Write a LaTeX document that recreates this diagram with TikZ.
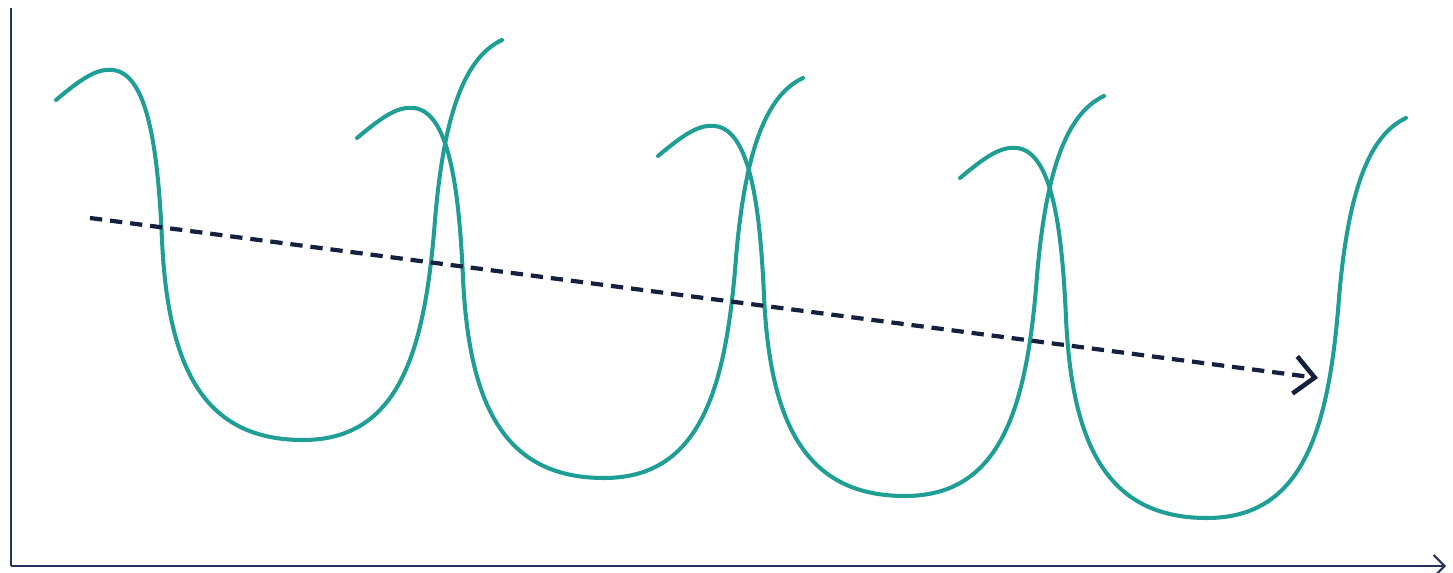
\documentclass[tikz,border=0pt]{standalone}
\usepackage{tikz}
\usetikzlibrary{arrows.meta}
\definecolor{wave}{HTML}{1E9E94}
\definecolor{axnavy}{HTML}{26345E}
\definecolor{trendnavy}{HTML}{15203F}
\begin{document}
\begin{tikzpicture}[
  x=0.02cm, y=-0.02cm,
  axis/.style={axnavy, line width=1.6pt, -{Straight Barb[length=2.2mm, width=4.4mm, line width=1.2pt]}},
  loop/.style={wave, line width=2.3pt, line cap=round},
  trend/.style={trendnavy, line width=2.4pt, dash pattern=on 7pt off 4.5pt,
                -{Straight Barb[length=4mm, width=7.5mm, line width=2.6pt]}},
]
\useasboundingbox (0,0) rectangle (1453,573);
% axes
\coordinate (origin) at (11,566);
\coordinate (ytop) at (11,8);
\coordinate (xend) at (1446,566);
\draw[axnavy, line width=1.6pt] (ytop) -- (origin);
\draw[axis] (origin) -- (xend);
% overlapping loops
\foreach \dx/\dy in {0/0, 301/38, 602/56, 904/78}{
  \begin{scope}[shift={(\dx,\dy)}]
    \draw[loop] (56,100) .. controls (80,80) and (96,68) .. (113,70)
      .. controls (148,74) and (158,150) .. (162,240)
      .. controls (168,370) and (205,440) .. (303,440)
      .. controls (400,440) and (425,350) .. (435,220)
      .. controls (445,100) and (470,55) .. (502,40);
  \end{scope}
}
% trend
\coordinate (start) at (90,218);
\coordinate (stop) at (1318,378);
\draw[trend] (start) -- (stop);
\end{tikzpicture}
\end{document}
